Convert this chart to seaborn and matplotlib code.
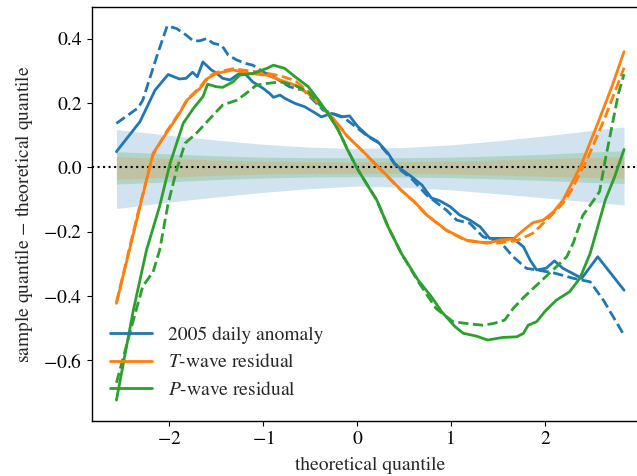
import numpy as np
import pandas as pd
import matplotlib
matplotlib.use("Agg")
import matplotlib.pyplot as plt
import seaborn as sns

# ---------------- data ----------------
anom_solid_x = [-2.56, -2.31, -2.15, -2.01, -1.89, -1.82, -1.75, -1.70, -1.64, -1.55, -1.50, -1.43, -1.35,
                -1.28, -1.21, -1.11, -1.00, -0.93, -0.89, -0.82, -0.77, -0.66, -0.56, -0.45, -0.38, -0.27,
                -0.17, -0.08, 0.01, 0.12, 0.22, 0.33, 0.40, 0.47, 0.58, 0.69, 0.79, 0.88, 0.99, 1.09, 1.20,
                1.31, 1.41, 1.52, 1.66, 1.77, 1.84, 1.91, 2.01, 2.10, 2.19, 2.39, 2.56, 2.84]
anom_solid_y = [0.049, 0.142, 0.240, 0.289, 0.275, 0.277, 0.296, 0.282, 0.328, 0.303, 0.294, 0.277, 0.272,
                0.287, 0.297, 0.266, 0.246, 0.230, 0.218, 0.225, 0.215, 0.199, 0.189, 0.170, 0.157, 0.168,
                0.157, 0.160, 0.126, 0.097, 0.080, 0.044, 0.012, -0.006, -0.029, -0.055, -0.095, -0.104,
                -0.122, -0.148, -0.164, -0.185, -0.221, -0.221, -0.221, -0.247, -0.288, -0.319, -0.314,
                -0.291, -0.314, -0.345, -0.278, -0.382]

anom_dash_x = [-2.56, -2.33, -2.28, -2.12, -2.02, -1.92, -1.82, -1.74, -1.67, -1.60, -1.53, -1.44, -1.37,
               -1.28, -1.18, -1.11, -1.00, -0.89, -0.72, -0.57, -0.36, -0.15, 0.03, 0.12, 0.22, 0.33, 0.40,
               0.47, 0.58, 0.74, 0.95, 1.06, 1.20, 1.34, 1.52, 1.66, 1.80, 1.91, 2.09, 2.30, 2.48, 2.62, 2.84]
anom_dash_y = [0.137, 0.185, 0.209, 0.355, 0.440, 0.432, 0.412, 0.393, 0.394, 0.401, 0.386, 0.380, 0.349,
               0.334, 0.323, 0.318, 0.297, 0.282, 0.251, 0.240, 0.178, 0.157, 0.116, 0.095, 0.078, 0.040,
               0.010, -0.010, -0.035, -0.086, -0.133, -0.164, -0.174, -0.216, -0.231, -0.278, -0.314,
               -0.319, -0.328, -0.345, -0.356, -0.413, -0.522]

twave_solid_x = [-2.56, -2.31, -2.17, -2.03, -1.89, -1.81, -1.67, -1.59, -1.50, -1.32, -1.14, -0.96, -0.82,
                 -0.66, -0.52, -0.38, -0.24, -0.10, 0.05, 0.19, 0.33, 0.47, 0.61, 0.74, 0.95, 1.16, 1.38,
                 1.52, 1.66, 1.77, 1.87, 1.98, 2.09, 2.19, 2.30, 2.39, 2.56, 2.71, 2.84]
twave_solid_y = [-0.423, -0.123, 0.044, 0.106, 0.168, 0.209, 0.246, 0.277, 0.292, 0.303, 0.292, 0.287, 0.272,
                 0.256, 0.230, 0.189, 0.147, 0.095, 0.054, 0.012, -0.029, -0.071, -0.107, -0.148, -0.195,
                 -0.226, -0.236, -0.226, -0.223, -0.195, -0.172, -0.164, -0.138, -0.102, -0.040, 0.012,
                 0.137, 0.251, 0.360]

twave_dash_x = [-2.56, -2.33, -2.17, -2.03, -1.89, -1.81, -1.67, -1.59, -1.50, -1.32, -1.14, -0.96, -0.82,
                -0.66, -0.52, -0.38, -0.24, -0.10, 0.05, 0.19, 0.33, 0.47, 0.61, 0.74, 0.95, 1.16, 1.30,
                1.48, 1.70, 1.87, 2.05, 2.19, 2.28, 2.46, 2.64, 2.84]
twave_dash_y = [-0.42, -0.14, 0.04, 0.11, 0.17, 0.21, 0.25, 0.28, 0.295, 0.307, 0.300, 0.293, 0.285, 0.270,
                0.236, 0.192, 0.148, 0.096, 0.053, 0.011, -0.031, -0.072, -0.108, -0.148, -0.196, -0.228,
                -0.232, -0.236, -0.228, -0.205, -0.154, -0.112, -0.071, 0.033, 0.157, 0.310]

pwave_solid_x = [-2.56, -2.38, -2.24, -2.10, -1.99, -1.85, -1.74, -1.64, -1.59, -1.50, -1.43, -1.32, -1.25,
                 -1.11, -0.96, -0.89, -0.77, -0.66, -0.52, -0.41, -0.31, -0.20, -0.10, 0.01, 0.12, 0.21,
                 0.33, 0.47, 0.65, 0.79, 0.90, 1.04, 1.13, 1.27, 1.39, 1.55, 1.70, 1.77, 1.82, 1.91, 2.01,
                 2.12, 2.26, 2.37, 2.48, 2.58, 2.64, 2.74, 2.84]
pwave_solid_y = [-0.724, -0.444, -0.257, -0.120, 0.012, 0.137, 0.184, 0.220, 0.259, 0.251, 0.249, 0.266,
                 0.287, 0.292, 0.308, 0.318, 0.308, 0.282, 0.251, 0.209, 0.168, 0.116, 0.054, -0.008,
                 -0.060, -0.102, -0.185, -0.267, -0.351, -0.402, -0.449, -0.495, -0.516, -0.525, -0.537,
                 -0.529, -0.527, -0.516, -0.491, -0.480, -0.444, -0.413, -0.387, -0.345, -0.267, -0.164,
                 -0.102, -0.029, 0.056]

pwave_dash_x = [-2.56, -2.38, -2.28, -2.17, -2.10, -2.01, -1.92, -1.83, -1.71, -1.53, -1.43, -1.28, -1.18,
                -1.07, -0.96, -0.82, -0.66, -0.52, -0.38, -0.31, -0.20, -0.10, 0.01, 0.12, 0.21, 0.33, 0.47,
                0.65, 0.84, 1.02, 1.20, 1.34, 1.46, 1.57, 1.66, 1.77, 1.93, 2.12, 2.23, 2.30, 2.40, 2.51,
                2.58, 2.64, 2.71, 2.78, 2.84]
pwave_dash_y = [-0.67, -0.475, -0.37, -0.325, -0.257, -0.112, -0.008, 0.075, 0.106, 0.163, 0.194, 0.209,
                0.230, 0.256, 0.261, 0.266, 0.255, 0.235, 0.190, 0.168, 0.116, 0.054, -0.008, -0.060,
                -0.102, -0.185, -0.267, -0.355, -0.439, -0.480, -0.487, -0.491, -0.485, -0.475, -0.439,
                -0.405, -0.361, -0.309, -0.278, -0.235, -0.150, -0.105, -0.075, 0.023, 0.126, 0.230, 0.290]

band_x = [-2.56, -2.0, -1.5, -1.0, -0.5, 0.0, 0.5, 1.0, 1.5, 2.0, 2.5, 2.84]
anom_band_hi = [0.118, 0.100, 0.085, 0.072, 0.063, 0.059, 0.062, 0.070, 0.083, 0.098, 0.115, 0.126]
anom_band_lo = [-0.128, -0.108, -0.092, -0.078, -0.066, -0.058, -0.062, -0.070, -0.082, -0.095, -0.108, -0.117]
pwave_band_hi = [0.049, 0.042, 0.036, 0.032, 0.030, 0.030, 0.030, 0.032, 0.036, 0.041, 0.048, 0.052]
pwave_band_lo = [-0.052, -0.045, -0.038, -0.033, -0.030, -0.029, -0.030, -0.032, -0.036, -0.041, -0.047, -0.050]
twave_band_hi = [0.033, 0.028, 0.023, 0.020, 0.018, 0.017, 0.018, 0.020, 0.023, 0.027, 0.031, 0.033]
twave_band_lo = [-0.037, -0.031, -0.025, -0.021, -0.019, -0.019, -0.019, -0.021, -0.024, -0.028, -0.032, -0.034]

labels = ["2005 daily anomaly", "$T$-wave residual", "$P$-wave residual"]
x_ticks = [-2, -1, 0, 1, 2]
y_ticks = [-0.6, -0.4, -0.2, 0.0, 0.2, 0.4]

# ---------------- style ----------------
sns.set_style("ticks")
plt.rcParams["font.family"] = ["STIXGeneral", "DejaVu Serif"]
plt.rcParams["mathtext.fontset"] = "stix"
plt.rcParams["font.size"] = 14
plt.rcParams["axes.edgecolor"] = "black"
plt.rcParams["axes.linewidth"] = 1.0
plt.rcParams["xtick.color"] = "black"
plt.rcParams["ytick.color"] = "black"
plt.rcParams["xtick.direction"] = "out"
plt.rcParams["ytick.direction"] = "out"

colors = sns.color_palette("tab10")
c_anom, c_t, c_p = colors[0], colors[1], colors[2]

W, H = 637, 476
fig = plt.figure(figsize=(W / 100, H / 100), dpi=100)
left_px, top_px, bottom_px, right_px = 92, 7.3, 420.7, 648.5
ax = fig.add_axes([left_px / W, (H - bottom_px) / H, (right_px - left_px) / W, (bottom_px - top_px) / H])

# confidence bands
ax.fill_between(band_x, anom_band_lo, anom_band_hi, color=c_anom, alpha=0.2, lw=0)
ax.fill_between(band_x, pwave_band_lo, pwave_band_hi, color=c_p, alpha=0.2, lw=0)
ax.fill_between(band_x, twave_band_lo, twave_band_hi, color=c_t, alpha=0.2, lw=0)

ax.axhline(0, color="black", ls=":", lw=1.5, zorder=1)

lw = 2.0
series = [
    (anom_solid_x, anom_solid_y, c_anom, "-", labels[0]),
    (anom_dash_x, anom_dash_y, c_anom, "--", None),
    (twave_solid_x, twave_solid_y, c_t, "-", labels[1]),
    (twave_dash_x, twave_dash_y, c_t, "--", None),
    (pwave_solid_x, pwave_solid_y, c_p, "-", labels[2]),
    (pwave_dash_x, pwave_dash_y, c_p, "--", None),
]
for xs, ys, c, ls, lab in series:
    df = pd.DataFrame({"x": xs, "y": ys})
    sns.lineplot(data=df, x="x", y="y", ax=ax, color=c, linestyle=ls, lw=lw,
                 estimator=None, sort=False, label=lab, legend=False, zorder=3)

ax.set_xlim(-2.82, 3.10)
ax.set_ylim(-0.788, 0.498)
ax.set_xticks(x_ticks)
ax.set_yticks(y_ticks)
ax.set_xticklabels([f"$-${-t}" if t < 0 else f"{t}" for t in x_ticks])
ax.set_yticklabels([f"$-${-t:.1f}" if t < 0 else f"{t:.1f}" for t in y_ticks])
ax.set_xlabel("theoretical quantile", labelpad=6)
ax.set_ylabel("sample quantile $-$ theoretical quantile", labelpad=6)

handles, labs = ax.get_legend_handles_labels()
ax.legend(handles, labs, loc="lower left", frameon=False, handlelength=2.2,
          handletextpad=0.8, labelspacing=0.5, bbox_to_anchor=(0.0, 0.01))

fig.savefig("out.png", dpi=100)
